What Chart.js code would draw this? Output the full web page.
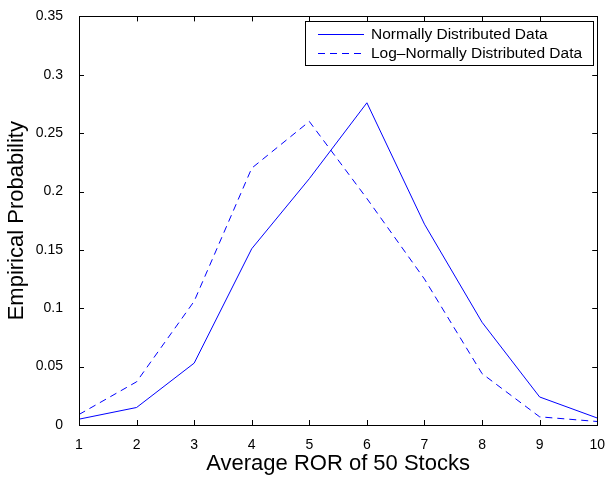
<!DOCTYPE html>
<html>
<head>
<meta charset="utf-8">
<script src="https://cdn.jsdelivr.net/npm/chart.js@4"></script>
<style>
  html, body { margin: 0; padding: 0; background: #fff; }
  #wrap { width: 609px; height: 479px; }
</style>
</head>
<body>
<div id="wrap"><canvas id="myChart" width="609" height="479"></canvas></div>
<script>
const xValues = [1, 2, 3, 4, 5, 6, 7, 8, 9, 10];
const normalData = [0.005, 0.015, 0.053, 0.151, 0.211, 0.276, 0.172, 0.088, 0.024, 0.006];
const logNormalData = [0.009, 0.037, 0.106, 0.220, 0.260, 0.194, 0.125, 0.044, 0.007, 0.003];
const xTicks = [1, 2, 3, 4, 5, 6, 7, 8, 9, 10];
const yTicks = [0, 0.05, 0.1, 0.15, 0.2, 0.25, 0.3, 0.35];

const FONT = '"Liberation Sans", Arial, Helvetica, sans-serif';
Chart.defaults.font.family = FONT;
Chart.defaults.color = '#000';

// MATLAB style box, inward ticks and legend
const matlabAxes = {
    id: 'matlabAxes',
    afterDatasetsDraw(chart) {
        const ctx = chart.ctx;
        const a = chart.chartArea;
        const xs = chart.scales.x, ys = chart.scales.y;
        ctx.save();
        ctx.strokeStyle = '#000';
        ctx.lineWidth = 1;
        ctx.beginPath();
        xTicks.forEach(v => {
            const px = Math.round(xs.getPixelForValue(v)) + 0.5;
            ctx.moveTo(px, a.bottom); ctx.lineTo(px, a.bottom - 5);
            ctx.moveTo(px, a.top); ctx.lineTo(px, a.top + 5);
        });
        yTicks.forEach(v => {
            const py = Math.round(ys.getPixelForValue(v)) + 0.5;
            ctx.moveTo(a.left, py); ctx.lineTo(a.left + 5, py);
            ctx.moveTo(a.right, py); ctx.lineTo(a.right - 5, py);
        });
        ctx.stroke();
        ctx.strokeRect(Math.round(a.left) + 0.5, Math.round(a.top) + 0.5,
            Math.round(a.right - a.left), Math.round(a.bottom - a.top));

        // legend
        const bx = 305.5, by = 21.5, bw = 288, bh = 44;
        ctx.fillStyle = '#fff';
        ctx.fillRect(bx, by, bw, bh);
        ctx.strokeRect(bx, by, bw, bh);
        ctx.font = '15.5px ' + FONT;
        ctx.textBaseline = 'middle';
        chart.data.datasets.forEach((ds, i) => {
            const ly = 34.5 + i * 19;
            ctx.strokeStyle = ds.borderColor;
            ctx.setLineDash(ds.borderDash || []);
            ctx.beginPath();
            ctx.moveTo(318, ly); ctx.lineTo(364, ly);
            ctx.stroke();
            ctx.setLineDash([]);
            ctx.fillStyle = '#000';
            ctx.fillText(ds.label, 371, ly + 0.5);
        });
        ctx.restore();
    }
};

const data = {
    datasets: [
        {
            label: 'Normally Distributed Data',
            data: xValues.map((x, i) => ({x: x, y: normalData[i]})),
            borderColor: '#0000ff',
            borderWidth: 1,
            pointRadius: 0,
            tension: 0,
        },
        {
            label: 'Log\u2013Normally Distributed Data',
            data: xValues.map((x, i) => ({x: x, y: logNormalData[i]})),
            borderColor: '#0000ff',
            borderWidth: 1,
            borderDash: [7, 5],
            pointRadius: 0,
            tension: 0,
        }
    ]
};

const config = {
    type: 'line',
    data: data,
    options: {
        responsive: false,
        animation: false,
        layout: { padding: { top: 13, right: 8, bottom: 0, left: 0 } },
        plugins: {
            legend: { display: false },
            tooltip: { enabled: false }
        },
        scales: {
            x: {
                type: 'linear',
                min: 1,
                max: 10,
                afterBuildTicks: s => { s.ticks = xTicks.map(v => ({value: v})); },
                afterFit: s => { s.height = 54; },
                grid: { display: false },
                border: { display: false },
                ticks: { font: { size: 14 }, padding: 4, maxRotation: 0 },
                title: {
                    display: true,
                    text: 'Average ROR of 50 Stocks',
                    font: { size: 22 },
                    padding: { top: 0, bottom: 2 }
                }
            },
            y: {
                min: 0,
                max: 0.35,
                afterBuildTicks: s => { s.ticks = yTicks.map(v => ({value: v})); },
                afterFit: s => { s.width = 79; },
                grid: { display: false },
                border: { display: false },
                ticks: { font: { size: 14 }, padding: 8, callback: v => String(+v.toFixed(2)) },
                title: {
                    display: true,
                    text: 'Empirical Probability',
                    font: { size: 22 },
                    padding: { top: 4, bottom: 0 }
                }
            }
        }
    },
    plugins: [matlabAxes]
};

const myChart = new Chart(document.getElementById('myChart'), config);
</script>
</body>
</html>
